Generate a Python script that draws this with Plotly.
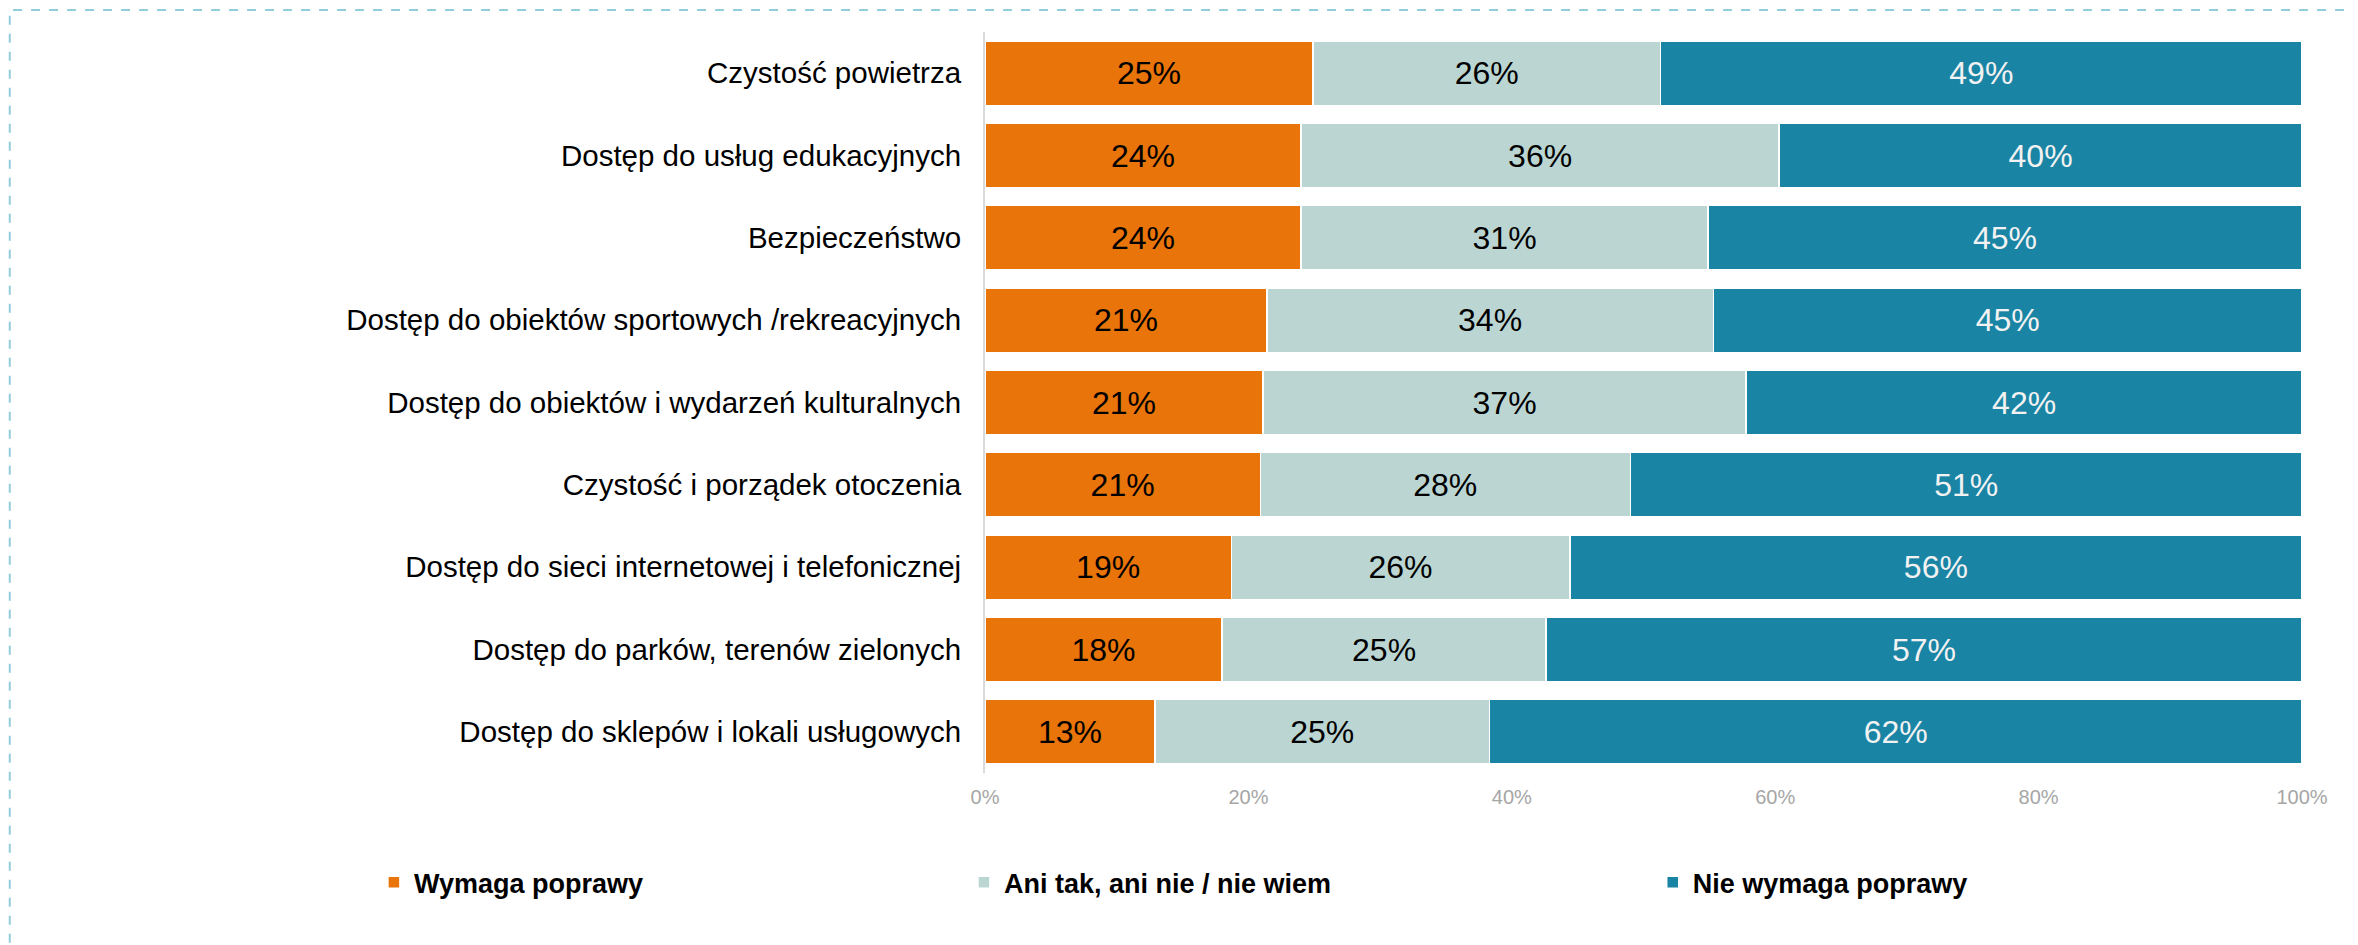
import plotly.graph_objects as go

categories = [
    "Czystość powietrza",
    "Dostęp do usług edukacyjnych",
    "Bezpieczeństwo",
    "Dostęp do obiektów sportowych /rekreacyjnych",
    "Dostęp do obiektów i wydarzeń kulturalnych",
    "Czystość i porządek otoczenia",
    "Dostęp do sieci internetowej i telefonicznej",
    "Dostęp do parków, terenów zielonych",
    "Dostęp do sklepów i lokali usługowych",
]
wymaga = [24.9, 24.0, 24.0, 21.4, 21.1, 20.9, 18.7, 18.0, 12.9]
ani_tak = [26.4, 36.3, 30.9, 33.9, 36.7, 28.1, 25.7, 24.6, 25.4]
nie_wymaga = [48.7, 39.7, 45.1, 44.7, 42.2, 51.0, 55.6, 57.4, 61.7]

tick_vals = [0, 20, 40, 60, 80, 100]
tick_text = ["0%", "20%", "40%", "60%", "80%", "100%"]

series = [
    ("Wymaga poprawy", wymaga, "#E8740A", "#000000", "legend"),
    ("Ani tak, ani nie / nie wiem", ani_tak, "#BBD6D2", "#000000", "legend2"),
    ("Nie wymaga poprawy", nie_wymaga, "#1A84A5", "#F2F2F2", "legend3"),
]

fig = go.Figure()
for name, vals, color, txtcolor, leg in series:
    fig.add_trace(go.Bar(
        y=categories, x=vals, name=name, orientation="h",
        marker=dict(color=color, line=dict(color="white", width=1.5)),
        texttemplate="%{x:.0f}%", textposition="inside", insidetextanchor="middle",
        textfont=dict(size=32, color=txtcolor, family="Liberation Sans, Arial"),
        legend=leg, showlegend=True, hoverinfo="skip",
    ))

leg_common = dict(orientation="h", yanchor="middle", y=-0.148, xanchor="left",
                  font=dict(size=27, color="#000000", family="Liberation Sans, Arial",
                            weight="bold"),
                  bgcolor="rgba(0,0,0,0)", visible=True, itemwidth=30)

fig.update_layout(
    width=2358, height=945,
    margin=dict(l=977, r=64, t=24, b=180),
    barmode="stack", bargap=0.22,
    showlegend=True,
    plot_bgcolor="white", paper_bgcolor="white",
    font=dict(family="Liberation Sans, Arial", color="#000000"),
    legend=dict(**leg_common, x=-0.464),
    legend2=dict(**leg_common, x=-0.016),
    legend3=dict(**leg_common, x=0.507),
)

fig.update_xaxes(
    range=[0, 100], tickvals=tick_vals, ticktext=tick_text,
    showgrid=False, zeroline=False, showline=False,
    tickfont=dict(size=20, color="#A6A6A6"), ticklabelstandoff=10,
)
fig.update_yaxes(
    categoryorder="array", categoryarray=categories, autorange="reversed",
    showgrid=False, zeroline=False, showline=True, linecolor="#D9D9D9", linewidth=2,
    tickfont=dict(size=29.5, color="#000000"), ticklabelstandoff=16,
)

# dashed frame around chart area
fig.add_shape(type="rect", xref="paper", yref="paper",
              x0=-0.7405, x1=1.3, y0=-0.6, y1=1.0297,
              line=dict(color="#92CDDC", width=2, dash="dash"), layer="below")

fig.write_html("out.html")
